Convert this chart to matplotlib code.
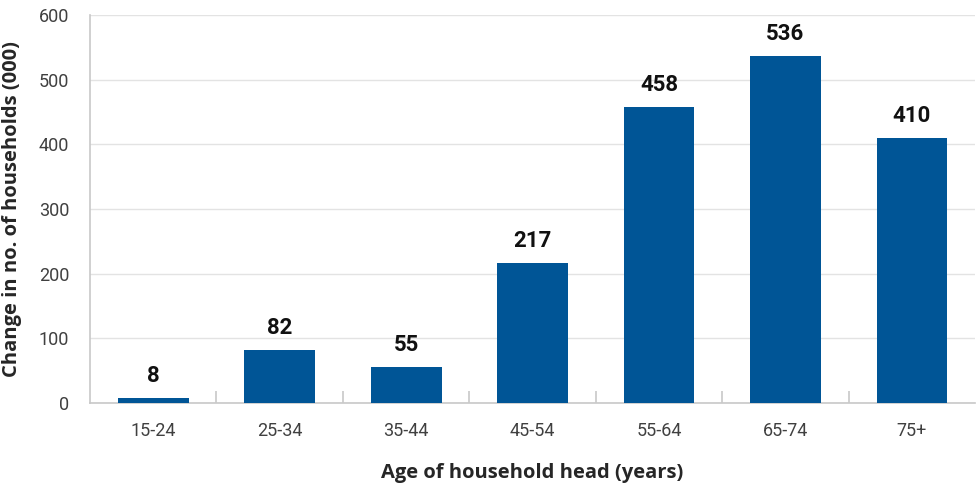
import matplotlib
matplotlib.use("Agg")
import matplotlib.pyplot as plt
from matplotlib import font_manager

categories = ["15-24", "25-34", "35-44", "45-54", "55-64", "65-74", "75+"]
values = [8, 82, 55, 217, 458, 536, 410]
yticks = [0, 100, 200, 300, 400, 500, 600]

names = {f.name for f in font_manager.fontManager.ttflist}
narrow = "Liberation Sans Narrow" if "Liberation Sans Narrow" in names else "Roboto"

fig = plt.figure(figsize=(9.77, 4.88), dpi=100)
ax = fig.add_axes([0.0921, 0.1742, 0.906, 0.7951])

x = range(len(categories))
bars = ax.bar(x, values, width=0.56, color="#005596", zorder=3)
ax.set_xlim(-0.5, len(categories) - 0.5)
ax.set_ylim(0, 600)
ax.set_yticks(yticks)
ax.set_yticklabels([str(t) for t in yticks], fontfamily=narrow, fontsize=13, color="#404040")
ax.set_xticks(list(x))
ax.set_xticklabels(categories, fontfamily=narrow, fontsize=13, color="#404040")
ax.tick_params(axis="both", which="major", length=0)
ax.tick_params(axis="y", pad=15)
ax.tick_params(axis="x", pad=14)
# category boundary ticks
ax.set_xticks([i + 0.5 for i in range(len(categories) - 1)], minor=True)
ax.tick_params(axis="x", which="minor", direction="in", length=9, color="#c8c8c8", width=1.2)

ax.grid(axis="y", color="#e3e3e3", linewidth=1, zorder=0)
for s in ["top", "right"]:
    ax.spines[s].set_visible(False)
ax.spines["left"].set_color("#c8c8c8")
ax.spines["bottom"].set_color("#c8c8c8")
ax.spines["left"].set_linewidth(1.2)
ax.spines["bottom"].set_linewidth(1.2)

for xi, v in zip(x, values):
    ax.annotate(str(v), (xi, v), xytext=(0, 8), textcoords="offset points",
                ha="center", va="bottom", fontfamily=narrow, fontweight="bold",
                fontsize=16, color="#111111")

ax.set_ylabel("Change in no. of households (000)", fontfamily="Open Sans",
              fontweight="bold", fontsize=14.5, color="#262626", labelpad=12)
ax.set_xlabel("Age of household head (years)", fontfamily="Open Sans",
              fontweight="bold", fontsize=14.5, color="#262626", labelpad=16)

fig.savefig("out.png", dpi=100)
